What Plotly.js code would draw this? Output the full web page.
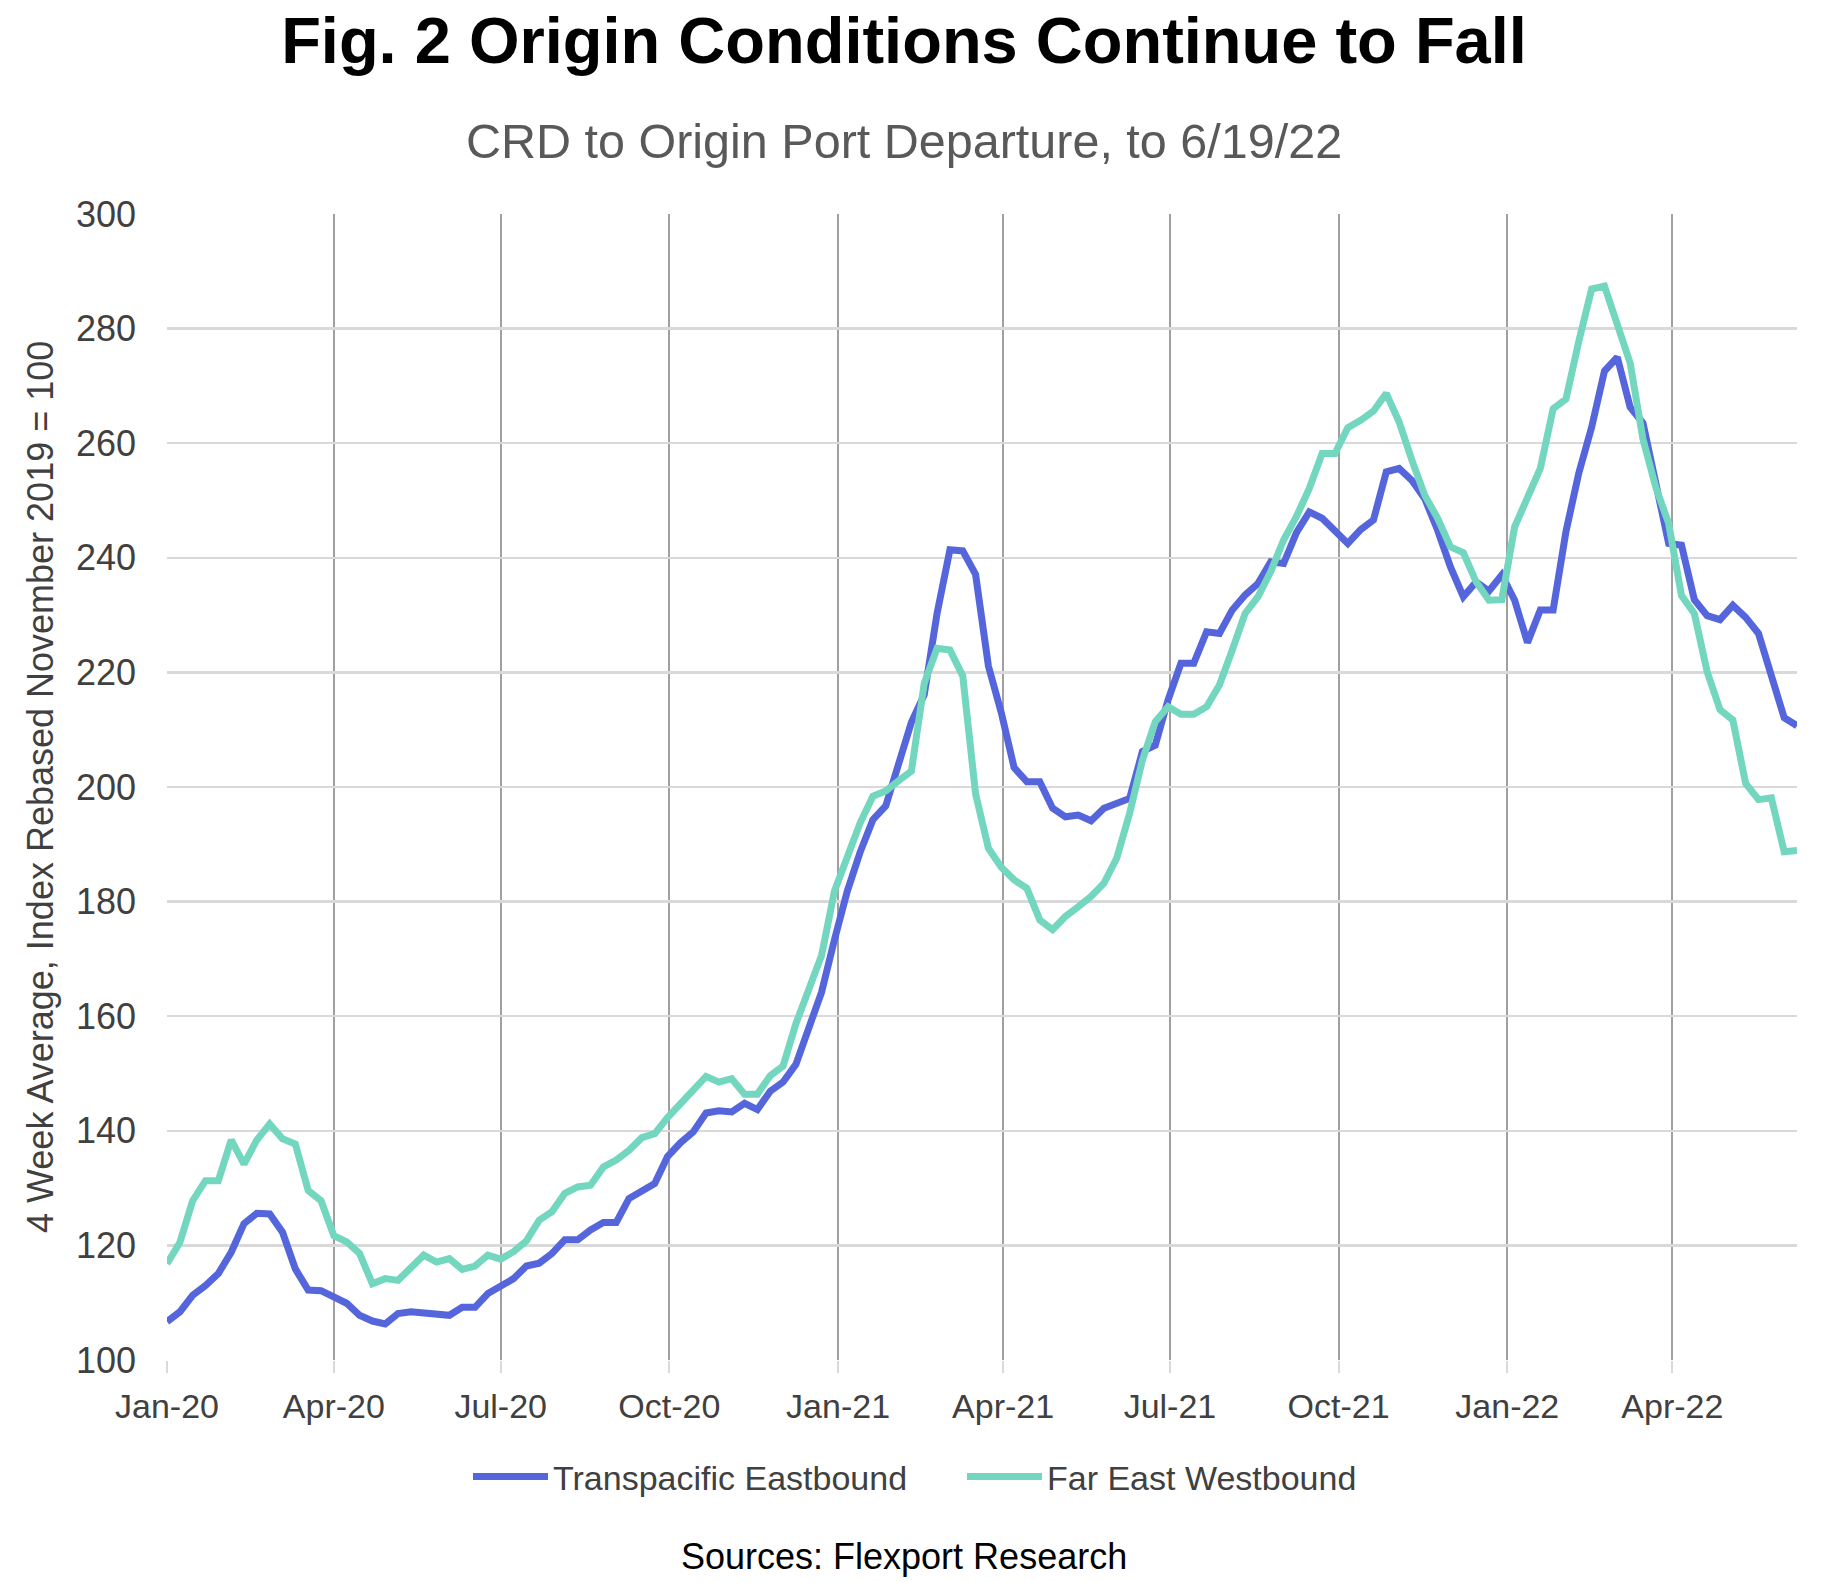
<!DOCTYPE html>
<html>
<head>
<meta charset="utf-8">
<script src="https://cdn.plot.ly/plotly-3.0.1.min.js"></script>
<style>
html,body{margin:0;padding:0;background:#ffffff;}
#chart{width:1845px;height:1582px;}
</style>
</head>
<body>
<div id="chart"></div>
<script>
// ---- Data (weekly, 4-week average index, Nov 2019 = 100) ----
const firstWeek = '2020-01-05';
const seriesNames = ['Transpacific Eastbound', 'Far East Westbound'];

const transpacificEastbound = [
  106.7,108.4,111.3,113.0,115.1,118.8,123.8,125.6,125.5,122.3,
  115.9,112.2,112.1,111.0,109.9,107.8,106.8,106.3,108.1,108.4,
  108.1,107.8,107.8,109.2,109.2,111.6,112.9,114.2,116.4,116.9,
  118.6,121.0,121.0,122.7,124.0,124.0,128.2,129.4,130.8,135.5,
  137.9,139.8,143.1,143.5,143.3,144.8,143.7,146.9,148.5,151.6,
  157.7,164.2,173.3,181.8,188.6,194.3,196.7,203.8,211.3,216.1,
  230.3,241.4,241.2,237.1,221.1,213.0,203.4,200.9,200.9,196.3,
  194.8,195.1,194.1,196.3,197.2,198.0,206.2,207.3,215.2,221.6,
  221.6,227.1,226.8,230.9,233.5,235.5,239.3,239.0,244.4,248.0,
  246.9,244.5,242.5,244.9,246.6,255.0,255.6,253.5,250.3,244.8,
  238.4,233.2,235.8,234.2,237.0,232.6,225.2,230.9,230.9,244.6,
  254.8,262.8,272.6,275.0,266.3,263.5,253.0,242.5,242.2,232.7,
  229.9,229.2,231.7,229.6,226.8,219.8,212.1,210.7
];

const farEastWestbound = [
  116.8,120.5,127.8,131.3,131.3,138.4,134.2,138.4,141.2,138.6,
  137.7,129.6,127.8,121.7,120.6,118.6,113.3,114.2,113.9,116.2,
  118.3,117.1,117.7,115.8,116.4,118.3,117.6,118.9,120.8,124.4,
  125.9,129.1,130.2,130.5,133.7,134.9,136.6,138.8,139.5,142.3,
  144.8,147.1,149.5,148.5,149.1,146.4,146.4,149.6,151.3,158.7,
  164.8,170.6,181.8,187.9,193.7,198.4,199.3,201.1,202.8,218.1,
  224.2,223.9,219.4,198.8,189.3,186.0,183.8,182.3,176.8,175.1,
  177.4,179.1,180.9,183.2,187.6,195.4,204.7,211.4,214.0,212.7,
  212.7,214.0,217.8,223.9,230.3,233.2,237.6,243.1,247.2,252.1,
  258.2,258.2,262.7,264.0,265.6,268.7,263.7,257.0,250.9,246.9,
  241.9,240.9,235.8,232.6,232.7,245.4,250.6,255.6,266.0,267.7,
  277.8,286.9,287.4,281.0,274.0,260.7,252.3,246.0,233.4,230.3,
  220.1,213.5,211.7,200.6,197.8,198.1,188.7,188.9
];

const tickDates  = ['2020-01-05','2020-04-05','2020-07-05','2020-10-05','2021-01-05',
                    '2021-04-05','2021-07-05','2021-10-05','2022-01-05','2022-04-05'];
const tickLabels = ['Jan-20','Apr-20','Jul-20','Oct-20','Jan-21',
                    'Apr-21','Jul-21','Oct-21','Jan-22','Apr-22'];
const yTicks = [100,120,140,160,180,200,220,240,260,280,300];

// weekly category dates
const weeks = [];
(function(){
  const p = firstWeek.split('-').map(Number);
  const t0 = Date.UTC(p[0], p[1]-1, p[2]);
  for (let i = 0; i < transpacificEastbound.length; i++) {
    weeks.push(new Date(t0 + i*7*86400000).toISOString().slice(0,10));
  }
})();

const FONT = 'Liberation Sans, Arial, Helvetica, sans-serif';
const plotL = 167, plotR = 1797, plotT = 214, plotB = 1360;
const W = 1845, H = 1582;
const cx = 904; // visual centre of texts
const px = v => (v - plotL) / (plotR - plotL);
const py = v => (plotB - v) / (plotB - plotT);

const traces = [
  {
    x: weeks, y: transpacificEastbound, name: seriesNames[0],
    type: 'scatter', mode: 'lines',
    line: {color: '#5565dc', width: 7}
  },
  {
    x: weeks, y: farEastWestbound, name: seriesNames[1],
    type: 'scatter', mode: 'lines',
    line: {color: '#73d6be', width: 7}
  }
];

const layout = {
  width: W, height: H,
  paper_bgcolor: '#ffffff', plot_bgcolor: '#ffffff',
  margin: {l: plotL, r: W - plotR, t: plotT, b: H - plotB, pad: 0},
  font: {family: FONT, color: '#404040'},
  title: {
    text: 'Fig. 2 Origin Conditions Continue to Fall',
    font: {family: FONT, size: 65, color: '#000000', weight: 700},
    xref: 'container', x: cx / W, xanchor: 'center',
    yref: 'container', y: 1 - 40 / H, yanchor: 'middle'
  },
  showlegend: true,
  legend: {
    orientation: 'h', xref: 'paper', yref: 'paper',
    x: px(962), xanchor: 'center', y: py(1477), yanchor: 'middle',
    font: {family: FONT, size: 34, color: '#404040'},
    itemwidth: 75, entrywidth: 404, entrywidthmode: 'pixels',
    bgcolor: 'rgba(0,0,0,0)'
  },
  xaxis: {
    type: 'date',
    range: [weeks[0], weeks[weeks.length - 1]],
    tickmode: 'array', tickvals: tickDates, ticktext: tickLabels,
    showgrid: true, gridcolor: '#a0a0a0', gridwidth: 2,
    ticks: 'outside', ticklen: 12, tickwidth: 2, tickcolor: '#d9d9d9',
    tickfont: {family: FONT, size: 34, color: '#404040'},
    ticklabelstandoff: 4,
    zeroline: false, showline: false, fixedrange: true
  },
  yaxis: {
    range: [100, 300],
    tickmode: 'array', tickvals: yTicks,
    showgrid: true, gridcolor: '#d9d9d9', gridwidth: 2.5,
    ticks: '', ticklabelstandoff: 30,
    tickfont: {family: FONT, size: 36, color: '#404040'},
    zeroline: false, showline: false, fixedrange: true
  },
  annotations: [
    {
      text: 'CRD to Origin Port Departure, to 6/19/22',
      xref: 'paper', yref: 'paper', x: px(cx), y: py(141),
      xanchor: 'center', yanchor: 'middle', showarrow: false,
      font: {family: FONT, size: 48.5, color: '#595959'}
    },
    {
      text: '4 Week Average, Index Rebased November 2019 = 100',
      xref: 'paper', yref: 'paper', x: px(40), y: 0.5,
      xanchor: 'center', yanchor: 'middle', textangle: -90, showarrow: false,
      font: {family: FONT, size: 36, color: '#404040'}
    },
    {
      text: 'Sources: Flexport Research',
      xref: 'paper', yref: 'paper', x: px(cx), y: py(1556),
      xanchor: 'center', yanchor: 'middle', showarrow: false,
      font: {family: FONT, size: 36, color: '#000000'}
    }
  ]
};

Plotly.newPlot('chart', traces, layout, {displayModeBar: false, staticPlot: true});
</script>
</body>
</html>
